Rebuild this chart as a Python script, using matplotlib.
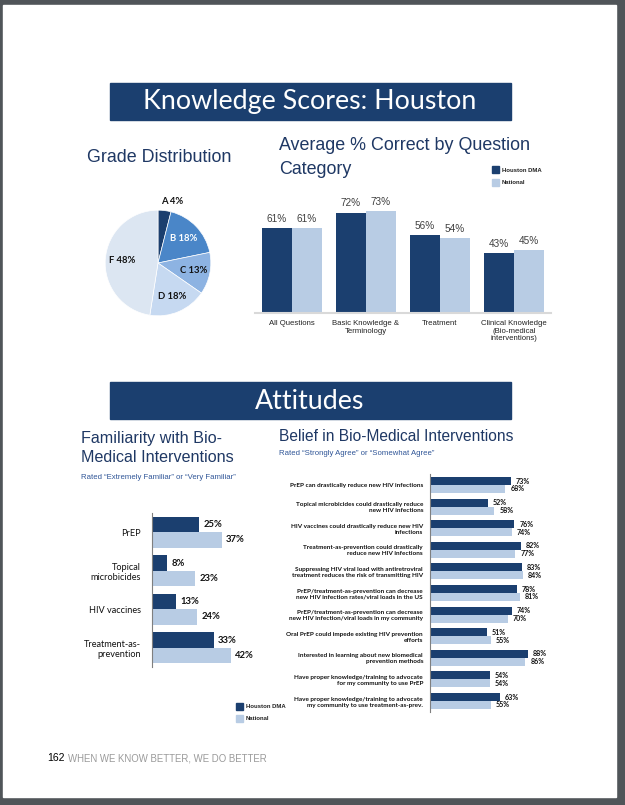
import matplotlib
matplotlib.use("Agg")
import matplotlib.pyplot as plt
from matplotlib.patches import Rectangle
import numpy as np

# ---- data ----
grades = ["A", "B", "C", "D", "F"]
grade_pct = [4, 18, 13, 18, 48]

categories = ["All Questions", "Basic Knowledge &\nTerminology", "Treatment",
              "Clinical Knowledge\n(Bio-medical\ninterventions)"]
correct_houston = [61, 72, 56, 43]
correct_national = [61, 73, 54, 45]

fam_items = ["PrEP", "Topical\nmicrobicides", "HIV vaccines", "Treatment-as-\nprevention"]
fam_houston = [25, 8, 13, 33]
fam_national = [37, 23, 24, 42]

belief_items = [
    "PrEP can drastically reduce new HIV infections",
    "Topical microbicides could drastically reduce\nnew HIV infections",
    "HIV vaccines could drastically reduce new HIV\ninfections",
    "Treatment-as-prevention could drastically\nreduce new HIV infections",
    "Suppressing HIV viral load with antiretroviral\ntreatment reduces the risk of transmitting HIV",
    "PrEP/treatment-as-prevention can decrease\nnew HIV infection rates/viral loads in the US",
    "PrEP/treatment-as-prevention can decrease\nnew HIV infection/viral loads in my community",
    "Oral PrEP could impede existing HIV prevention\nefforts",
    "Interested in learning about new biomedical\nprevention methods",
    "Have proper knowledge/training to advocate\nfor my community to use PrEP",
    "Have proper knowledge/training to advocate\nmy community to use treatment-as-prev.",
]
belief_houston = [73, 52, 76, 82, 83, 78, 74, 51, 88, 54, 63]
belief_national = [68, 58, 74, 77, 84, 81, 70, 55, 86, 54, 55]

# ---- style ----
DARK = "#1b3f6f"
LIGHT = "#b8cce4"
NAVY = "#1f3864"
SUB = "#2f5597"
PIE_COLORS = ["#1b3f6f", "#4a86c8", "#8db3e2", "#c6d9f1", "#dce6f2"]
NARROW = ["Liberation Sans"]
BODY = ["Lato", "DejaVu Sans"]

W, H = 625, 805
fig = plt.figure(figsize=(W / 100, H / 100), dpi=100, facecolor="#505559")


def box(x, y, w, h):
    return fig.add_axes([x / W, 1 - (y + h) / H, w / W, h / H])


# page background, banners, titles
bg = box(0, 0, W, H)
bg.set_xlim(0, W)
bg.set_ylim(H, 0)
bg.axis("off")
bg.add_patch(Rectangle((3, 5), 613, 792, color="white"))
bg.add_patch(Rectangle((110, 83), 401, 37, color=DARK))
bg.add_patch(Rectangle((110, 382), 401, 37, color=DARK))
bg.text(310, 102, "Knowledge Scores: Houston", color="white", fontsize=19.3,
        family=BODY, ha="center", va="center")
bg.text(310, 401, "Attitudes", color="white", fontsize=19.3,
        family=BODY, ha="center", va="center")

bg.text(87, 158, "Grade Distribution", color=NAVY, fontsize=12.9, family=NARROW,
        ha="left", va="center")
bg.text(279, 145, "Average % Correct by Question", color=NAVY, fontsize=12.9,
        family=NARROW, ha="left", va="center")
bg.text(279, 169, "Category", color=NAVY, fontsize=12.9,
        family=NARROW, ha="left", va="center")
bg.text(81, 448, "Familiarity with Bio-\nMedical Interventions", color=NAVY, fontsize=11.6,
        family=NARROW, ha="left", va="center", linespacing=1.4)
bg.text(81, 477, "Rated \u201cExtremely Familiar\u201d or \u201cVery Familiar\u201d", color=SUB,
        fontsize=5.6, family=NARROW, ha="left", va="center")
bg.text(279, 436, "Belief in Bio-Medical Interventions", color=NAVY, fontsize=11.2,
        family=NARROW, ha="left", va="center")
bg.text(279, 453, "Rated \u201cStrongly Agree\u201d or \u201cSomewhat Agree\u201d", color=SUB,
        fontsize=5.6, family=NARROW, ha="left", va="center")

# legends
for (lx, ly0) in [(492, 170), (236, 706)]:
    for k, (c, lab) in enumerate([(DARK, "Houston DMA"), (LIGHT, "National")]):
        ly = ly0 + k * 12.5
        bg.add_patch(Rectangle((lx, ly - 3.5), 7, 7, color=c))
        bg.text(lx + 10, ly, lab, fontsize=4.3, family=NARROW, weight="bold",
                ha="left", va="center", color="#222222")

# footer
bg.text(47, 758, "162", fontsize=7.5, family=NARROW, ha="left", va="center", color="black")
bg.text(68, 758, "WHEN WE KNOW BETTER, WE DO BETTER", fontsize=6.9, family=NARROW,
        ha="left", va="center", color="#9a9a9a")

# ---- pie ----
pax = box(158 - 56, 263 - 56, 112, 112)
wedges, _ = pax.pie(grade_pct, colors=PIE_COLORS, startangle=90, counterclock=False,
                    wedgeprops=dict(edgecolor="white", linewidth=0.5))
pax.set_xlim(-1.06, 1.06)
pax.set_ylim(-1.06, 1.06)
pax.set_aspect("equal")
for g, p, wdg in zip(grades, grade_pct, wedges):
    ang = np.deg2rad((wdg.theta1 + wdg.theta2) / 2)
    r = 1.18 if p < 8 else 0.68
    pax.text(r * np.cos(ang) + (0.12 if p < 8 else 0), r * np.sin(ang), f"{g} {p}%",
             ha="center", va="center", fontsize=6.8, weight="bold", family=BODY,
             color="white" if g == "B" else "#111111")

# ---- average % correct ----
bax = box(255, 313 - 80 * 1.395, 296, 80 * 1.395)
x = np.arange(len(categories))
bw = 0.405
b1 = bax.bar(x - bw / 2, correct_houston, bw, color=DARK)
b2 = bax.bar(x + bw / 2, correct_national, bw, color=LIGHT)
for bars in (b1, b2):
    bax.bar_label(bars, labels=[f"{v}%" for v in bars.datavalues], padding=3,
                  fontsize=7.2, color="#404040", family=["Liberation Sans"])
bax.set_xlim(-0.5, 3.5)
bax.set_ylim(0, 80)
for s in ["top", "right", "left"]:
    bax.spines[s].set_visible(False)
bax.spines["bottom"].set_color("#d9d9d9")
bax.spines["bottom"].set_linewidth(1.5)
bax.set_yticks([])
bax.set_xticks(x)
bax.set_xticklabels(categories, fontsize=5.6, family=["Liberation Sans"], color="#222222",
                    linespacing=1.15)
bax.tick_params(axis="x", length=0, pad=5)
bax.patch.set_alpha(0)

# ---- familiarity ----
fax = box(152, 513, 94, 154)
y = np.arange(len(fam_items))
bh = 0.4
f1 = fax.barh(y - bh / 2, fam_houston, bh, color=DARK)
f2 = fax.barh(y + bh / 2, fam_national, bh, color=LIGHT)
for bars in (f1, f2):
    fax.bar_label(bars, labels=[f"{v}%" for v in bars.datavalues], padding=3,
                  fontsize=6.8, weight="bold", family=BODY, color="#111111")
fax.set_xlim(0, 50)
fax.set_ylim(3.5, -0.5)
for s in ["top", "right", "bottom"]:
    fax.spines[s].set_visible(False)
fax.spines["left"].set_color("#7f7f7f")
fax.spines["left"].set_linewidth(0.8)
fax.set_xticks([])
fax.set_yticks(y)
fax.set_yticklabels(fam_items, fontsize=6.6, family=BODY, color="#111111")
fax.tick_params(axis="y", length=0, pad=8)
fax.patch.set_alpha(0)

# ---- belief ----
lax = box(430, 474.2, 111, 11 * 21.6)
yb = np.arange(len(belief_items))
bh2 = 0.37
l1 = lax.barh(yb - bh2 / 2, belief_houston, bh2, color=DARK)
l2 = lax.barh(yb + bh2 / 2, belief_national, bh2, color=LIGHT)
for bars in (l1, l2):
    lax.bar_label(bars, labels=[f"{v}%" for v in bars.datavalues], padding=3.5,
                  fontsize=5.1, weight="bold", family=BODY, color="#111111")
lax.set_xlim(0, 100)
lax.set_ylim(10.5, -0.5)
for s in ["top", "right", "bottom"]:
    lax.spines[s].set_visible(False)
lax.spines["left"].set_color("#7f7f7f")
lax.spines["left"].set_linewidth(0.8)
lax.set_xticks([])
lax.set_yticks(yb)
lax.set_yticklabels(belief_items, fontsize=4.6, family=BODY, weight="bold",
                    color="#111111", linespacing=1.25)
lax.tick_params(axis="y", length=0, pad=5)
lax.patch.set_alpha(0)

fig.savefig("out.png", dpi=100, facecolor=fig.get_facecolor())
